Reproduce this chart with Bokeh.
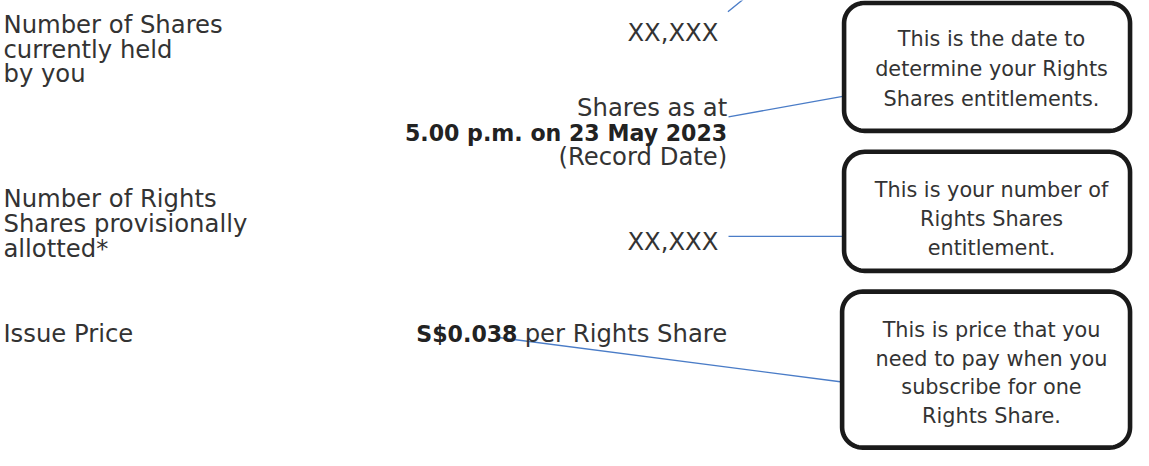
import numpy as np
from bokeh.plotting import figure
from bokeh.models import Range1d, ColumnDataSource
from bokeh.core.properties import value
from bokeh.embed import file_html
from bokeh.resources import INLINE

FONT = "DejaVu Sans"
TEXT_COLOR = "#333333"
BOX_COLOR = "#1a1a1a"
LINE_BLUE = "#4a7cc7"

# ---- left column labels ----
label_text = ["Number of Shares", "currently held", "by you",
              "Number of Rights", "Shares provisionally", "allotted*",
              "Issue Price"]
label_y = [25, 50.7, 76, 205.5, 231, 256.5, 345]
label_x = [3] * len(label_text)

# ---- middle column values (right aligned) ----
value_text = ["XX,XXX", "Shares as at", "(Record Date)", "XX,XXX", "per Rights Share"]
value_x = [728, 737, 737, 728, 737]
value_y = [33, 110.7, 162, 249.3, 345]

bold_text = ["5.00 p.m. on 23 May 2023", "S$0.038"]
bold_x = [737, 421.7]
bold_y = [137.3, 345]
bold_align = ["right", "left"]

# ---- callout boxes ----
box_left = [855.5, 855.5, 853.5]
box_right = [1145.5, 1145.5, 1145.5]
box_top = [2.5, 156.7, 301.5]
box_bottom = [135, 280, 463]
box_radius = 21

callout_text = ["This is the date to", "determine your Rights", "Shares entitlements.",
                "This is your number of", "Rights Shares", "entitlement.",
                "This is price that you", "need to pay when you", "subscribe for one", "Rights Share."]
callout_y = [40, 71, 101.7, 196.7, 226.7, 256.7, 341.7, 371.7, 400, 430]
callout_x = [1005] * len(callout_text)

# ---- connector lines ----
conn_x0 = [737.7, 738.3, 738.3, 505]
conn_y0 = [11.7, 120.5, 244.3, 349]
conn_x1 = [753, 855.5, 855.5, 853.5]
conn_y1 = [-1, 99, 244.3, 395]


def rounded_path(x0, x1, y0, y1, r, n=16):
    xs, ys = [], []
    specs = [((x0 + r, y0 + r), np.pi, 1.5 * np.pi),
             ((x1 - r, y0 + r), 1.5 * np.pi, 2 * np.pi),
             ((x1 - r, y1 - r), 0, 0.5 * np.pi),
             ((x0 + r, y1 - r), 0.5 * np.pi, np.pi)]
    for (cx, cy), a0, a1 in specs:
        t = np.linspace(a0, a1, n)
        xs.extend(cx + r * np.cos(t))
        ys.extend(cy + r * np.sin(t))
    return list(xs), list(ys)


p = figure(width=1133, height=450,
           x_range=Range1d(0, 1149), y_range=Range1d(466, 0),
           output_backend="svg", toolbar_location=None,
           x_axis_location=None, y_axis_location=None, min_border=0)
p.grid.visible = False
p.outline_line_color = None
p.background_fill_color = "white"
p.border_fill_color = "white"

# connectors
p.segment(x0="x0", y0="y0", x1="x1", y1="y1",
          source=ColumnDataSource(dict(x0=conn_x0, y0=conn_y0, x1=conn_x1, y1=conn_y1)),
          line_color=LINE_BLUE, line_width=1.4)

# boxes
bxs, bys = [], []
for l, r_, t, b in zip(box_left, box_right, box_top, box_bottom):
    xs, ys = rounded_path(l, r_, t, b, box_radius)
    bxs.append(xs)
    bys.append(ys)
p.patches(xs="xs", ys="ys", source=ColumnDataSource(dict(xs=bxs, ys=bys)),
          fill_color="white", line_color=BOX_COLOR, line_width=4.6, line_join="round")

# texts
p.text(x="x", y="y", text="text",
       source=ColumnDataSource(dict(x=label_x, y=label_y, text=label_text)),
       text_font=value(FONT), text_font_size="24.3px", text_color=TEXT_COLOR,
       text_align="left", text_baseline="alphabetic")
p.text(x="x", y="y", text="text",
       source=ColumnDataSource(dict(x=value_x, y=value_y, text=value_text)),
       text_font=value(FONT), text_font_size="24.3px", text_color=TEXT_COLOR,
       text_align="right", text_baseline="alphabetic")
p.text(x="x", y="y", text="text", text_align="align",
       source=ColumnDataSource(dict(x=bold_x, y=bold_y, text=bold_text, align=bold_align)),
       text_font=value(FONT), text_font_size="22.1px", text_font_style="bold",
       text_color="#222222", text_baseline="alphabetic")
p.text(x="x", y="y", text="text",
       source=ColumnDataSource(dict(x=callout_x, y=callout_y, text=callout_text)),
       text_font=value(FONT), text_font_size="20.8px", text_color=TEXT_COLOR,
       text_align="center", text_baseline="alphabetic")

open("out.html", "w").write(file_html(p, INLINE))
